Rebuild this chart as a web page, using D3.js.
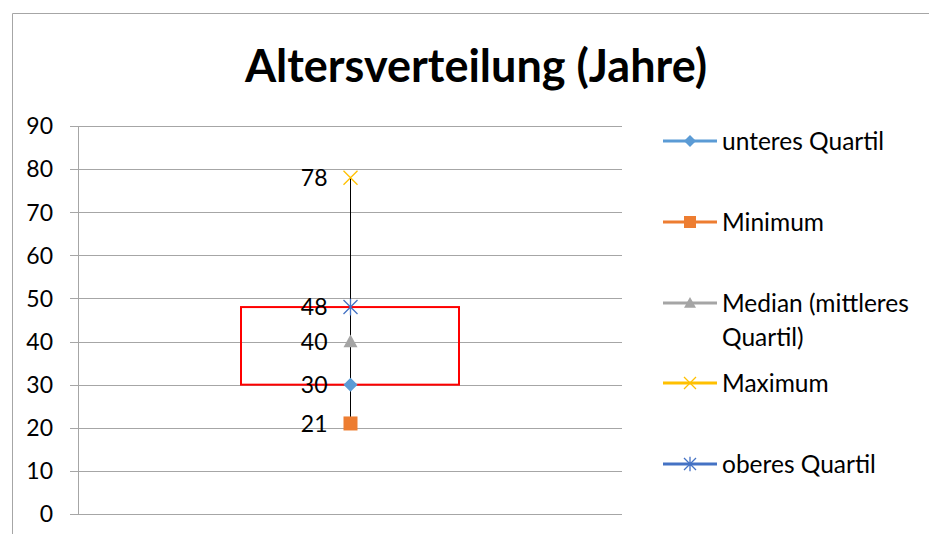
<!DOCTYPE html>
<html><head><meta charset="utf-8">
<script src="https://cdn.jsdelivr.net/npm/d3@7"></script>
<style>body{margin:0;background:#fff}</style>
</head><body>
<svg id="chart" width="929" height="534"></svg>
<script>
const categories = ["Alter"];
const seriesNames = ["unteres Quartil", "Minimum", "Median (mittleres Quartil)", "Maximum", "oberes Quartil"];
const seriesValues = [30, 21, 40, 78, 48];
const seriesColors = ["#5B9BD5", "#ED7D31", "#A5A5A5", "#FFC000", "#4472C4"];
const seriesSymbols = ["diamond", "square", "triangle", "x", "star"];
const yTicks = [0, 10, 20, 30, 40, 50, 60, 70, 80, 90];
const legendLines = [["unteres Quartil"], ["Minimum"], ["Median (mittleres", "Quartil)"], ["Maximum"], ["oberes Quartil"]];

const font = "Lato, 'Open Sans', sans-serif";
const svg = d3.select("#chart");

// outer chart frame
svg.append("path").attr("d", "M12.5,534 V13.5 H929")
  .attr("fill", "none").attr("stroke", "#a6a6a6").attr("stroke-width", 1);

svg.append("text").attr("x", 476).attr("y", 82).attr("text-anchor", "middle")
  .attr("font-family", font).attr("font-weight", "bold").attr("font-size", 45)
  .text("Altersverteilung (Jahre)");

const x = d3.scaleBand().domain(categories).range([78, 622]);
const y = d3.scaleLinear().domain([0, 90]).range([514, 126]);
const cx = Math.round(x(categories[0]) + x.bandwidth() / 2) + 0.5;

// horizontal gridlines
svg.append("g").selectAll("line").data(yTicks).join("line")
  .attr("x1", 70).attr("x2", 622)
  .attr("y1", d => Math.round(y(d)) + 0.5).attr("y2", d => Math.round(y(d)) + 0.5)
  .attr("stroke", "#a6a6a6").attr("stroke-width", 1);

// value axis
svg.append("line").attr("x1", 78.5).attr("x2", 78.5).attr("y1", y(90)).attr("y2", y(0) + 0.5)
  .attr("stroke", "#a6a6a6");
svg.append("g").selectAll("text").data(yTicks).join("text")
  .attr("x", 53).attr("y", d => y(d)).attr("dy", "0.36em").attr("text-anchor", "end")
  .attr("font-family", font).attr("font-size", 23).attr("fill", "#000")
  .text(d => d);

// interquartile box
const q1 = seriesValues[0], q3 = seriesValues[4];
svg.append("rect").attr("x", 241).attr("y", y(q3)).attr("width", 218).attr("height", y(q1) - y(q3))
  .attr("fill", "none").attr("stroke", "#ff0000").attr("stroke-width", 2);

// whisker from minimum to maximum
svg.append("line").attr("x1", cx).attr("x2", cx)
  .attr("y1", y(d3.min(seriesValues))).attr("y2", y(d3.max(seriesValues)))
  .attr("stroke", "#000").attr("stroke-width", 1);

function marker(g, sym, color, size) {
  if (sym === "diamond") {
    g.append("path").attr("d", `M0,${-size} L${size},0 L0,${size} L${-size},0Z`).attr("fill", color);
  } else if (sym === "square") {
    g.append("rect").attr("x", -size).attr("y", -size).attr("width", 2 * size).attr("height", 2 * size).attr("fill", color);
  } else if (sym === "triangle") {
    g.append("path").attr("d", `M0,${-size} L${size},${size * 0.8} L${-size},${size * 0.8}Z`).attr("fill", color);
  } else if (sym === "x") {
    g.append("path").attr("d", `M${-size},${-size} L${size},${size} M${size},${-size} L${-size},${size}`)
      .attr("stroke", color).attr("stroke-width", 1.3);
  } else if (sym === "star") {
    g.append("path").attr("d", `M${-size},${-size} L${size},${size} M${size},${-size} L${-size},${size} M0,${-size * 1.2} L0,${size * 1.2}`)
      .attr("stroke", color).attr("stroke-width", 1.3);
  }
}

// data points and value labels
seriesValues.forEach((v, i) => {
  const g = svg.append("g").attr("transform", `translate(${cx},${y(v)})`);
  marker(g, seriesSymbols[i], seriesColors[i], 7);
  svg.append("text").attr("x", cx - 23).attr("y", y(v)).attr("dy", "0.36em").attr("text-anchor", "end")
    .attr("font-family", font).attr("font-size", 23).attr("fill", "#000").text(v);
});

// legend
const legendY = [141, 222, 303, 383, 464];
legendLines.forEach((lines, i) => {
  const ly = legendY[i];
  svg.append("line").attr("x1", 663).attr("x2", 717).attr("y1", ly).attr("y2", ly)
    .attr("stroke", seriesColors[i]).attr("stroke-width", 3);
  const g = svg.append("g").attr("transform", `translate(690,${ly})`);
  marker(g, seriesSymbols[i], seriesColors[i], 6);
  const t = svg.append("text").attr("x", 722).attr("y", ly)
    .attr("font-family", font).attr("font-size", 24.5).attr("fill", "#000");
  lines.forEach((s, j) => t.append("tspan").attr("x", 722).attr("dy", j === 0 ? "0.36em" : 34).text(s));
});
</script>
</body></html>
